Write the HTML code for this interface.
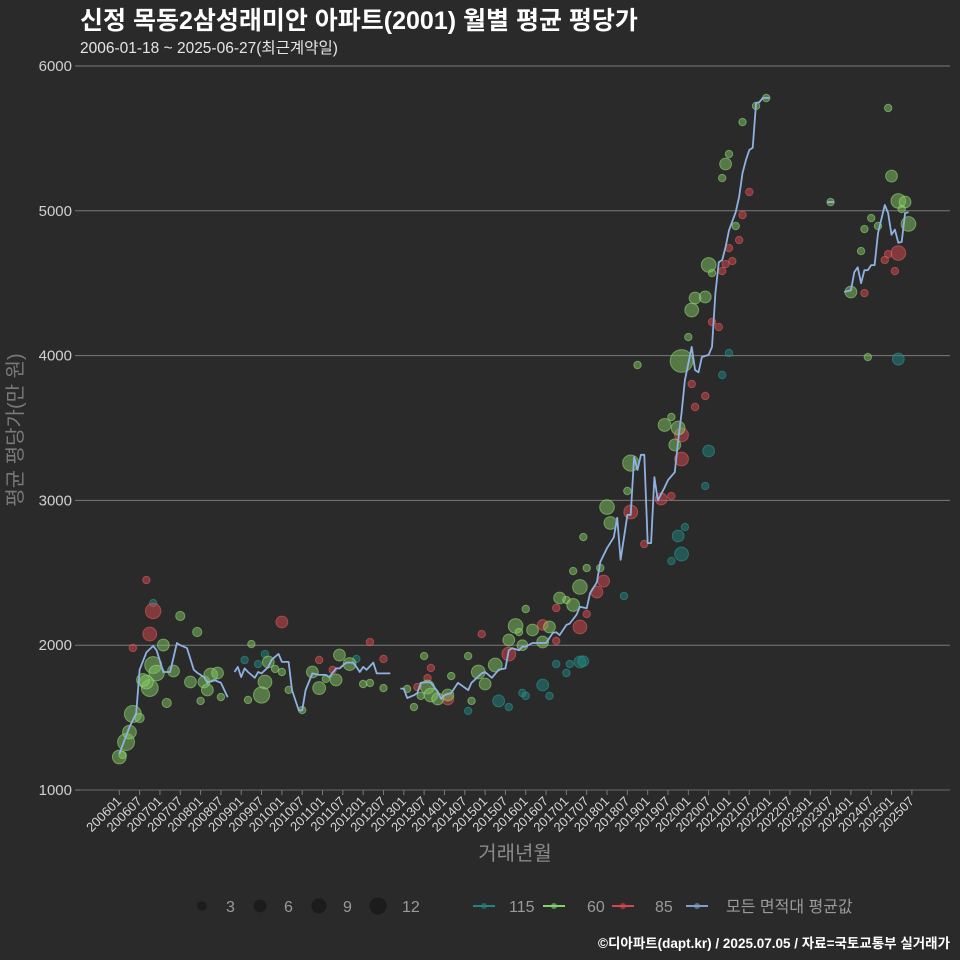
<!DOCTYPE html>
<html><head><meta charset="utf-8">
<style>
html,body{margin:0;padding:0;background:#2a2a2b;}
svg{display:block;font-family:"Liberation Sans","Noto Sans CJK KR",sans-serif;}
</style></head>
<body>
<svg id="chart" width="960" height="960" viewBox="0 0 960 960" xmlns="http://www.w3.org/2000/svg">
<rect x="0" y="0" width="960" height="960" fill="#2a2a2b"/>
<text x="80" y="29" fill="#ffffff" font-size="25" font-weight="bold">신정 목동2삼성래미안 아파트(2001) 월별 평균 평당가</text>
<text x="80" y="53" fill="#e6e6e6" font-size="15.5">2006-01-18 ~ 2025-06-27(최근계약일)</text>
<g id="grid"></g>
<g id="yticks"></g>
<g id="xticks"></g>
<g id="pts"></g>
<g id="line"></g>
<text transform="translate(22,430) rotate(-90)" text-anchor="middle" fill="#7a7a7a" font-size="20">평균 평당가(만 원)</text>
<text x="515" y="860" text-anchor="middle" fill="#8a8a8a" font-size="20">거래년월</text>
<g id="legend"></g>
<text x="950" y="948" text-anchor="end" fill="#ffffff" font-size="13.5" font-weight="bold">©디아파트(dapt.kr) / 2025.07.05 / 자료=국토교통부 실거래가</text>
</svg>
<script>
// ---- data ----
const yTicks = [1000, 2000, 3000, 4000, 5000, 6000];
const xTickLabels = ["200601","200607","200701","200707","200801","200807","200901","200907","201001","201007","201101","201107","201201","201207","201301","201307","201401","201407","201501","201507","201601","201607","201701","201707","201801","201807","201901","201907","202001","202007","202101","202107","202201","202207","202301","202307","202401","202407","202501","202507"];
// average line (month index from 2006-01; null = gap)
const lineMonths = [0,3,5,6,8,10,11,13,15,17,18,20,22,23,25,26,28,30,32,null,
34,35,36,37,38,40,41,42,44,45,47,48,49,50,51,53,54,55,57,59,61,62,64,65,67,69,70,71,72,73,75,76,80,null,
83,84,85,87,88,89,91,92,94,95,96,98,100,103,104,107,108,110,112,114,115,116,118,119,120,122,124,126,128,129,130,132,133,135,136,138,139,141,142,144,146,147,148,150,151,152,153,154,155,156,157,158,159,161,162,164,165,166,167,169,170,171,172,174,175,176,177,178,179,180,182,183,184,185,186,187,188,189,190,192,null,
209,211,null,
214,216,217,218,219,220,221,222,223,224,226,227,228,229,230,231,232,233];
const lineValues = [1250,1435,1530,1830,1950,1995,1965,1815,1815,2015,2000,1980,1830,1810,1780,1740,1760,1740,1640,null,
1815,1850,1780,1840,1815,1775,1815,1805,1850,1900,1940,1885,1885,1885,1690,1550,1550,1690,1805,1795,1795,1780,1840,1840,1880,1880,1850,1815,1850,1830,1880,1805,1805,null,
1700,1700,1635,1655,1670,1740,1745,1740,1680,1630,1655,1670,1740,1690,1740,1805,1815,1775,1830,1840,1965,1980,1965,1990,1990,2015,2015,2015,2085,2090,2070,2140,2150,2210,2265,2255,2360,2435,2575,2670,2745,2880,2590,2900,2900,3300,3210,3315,3315,2705,2705,3160,3000,3090,3140,3195,3415,3600,3830,4060,3900,3885,3990,4005,4060,4430,4645,4660,4750,4865,4990,5095,5260,5350,5420,5435,5745,5750,5780,5780,null,
5060,5060,null,
4440,4450,4575,4610,4500,4590,4590,4625,4625,4845,5040,4985,4835,4870,4780,4785,4985,4990];
// 60㎡
const months60 = [0,1,2,3,4,6,13,10,11,9,8,7,14,16,18,23,21,25,27,29,26,24,30,39,44,43,42,38,46,48,50,54,57,59,61,64,65,68,72,74,78,85,90,91,92,87,89,94,97,98,103,104,106,108,111,115,117,118,120,122,127,125,119,130,132,136,134,134,138,137,142,144,145,151,150,153,166,161,163,165,164,168,169,170,173,174,175,182,179,180,178,184,188,191,210,227,228,230,232,231,233,216,219,220,222,224,221];
const values60 = [1228,1242,1331,1400,1525,1497,2001,1863,1808,1704,1746,1760,1601,1822,2202,2091,1746,1746,1794,1808,1691,1615,1642,2008,1884,1746,1656,1622,1836,1815,1691,1552,1815,1704,1767,1760,1932,1870,1732,1739,1704,1698,1925,1711,1656,1573,1650,1629,1656,1787,1925,1615,1815,1732,1863,2036,2133,2091,2250,2105,2126,2022,2000,2326,2312,2402,2278,2512,2533,2747,2533,2954,2844,3258,3065,3935,3963,3521,3576,3500,3383,4128,4315,4398,4405,4626,4570,4895,5323,5392,5226,5613,5724,5779,5060,5710,5240,5068,5061,5012,4909,4439,4722,4874,4950,4895,3990];
const counts60 = [6,1,10,6,10,2,4,10,8,10,6,5,2,4,2,2,4,4,6,4,4,1,1,1,4,6,9,1,1,1,1,1,4,5,1,4,4,5,1,1,1,1,1,6,6,1,1,4,4,1,1,1,6,4,6,4,7,1,1,4,4,4,3,4,1,7,5,1,1,1,1,7,5,9,1,1,20,5,1,6,4,1,6,4,4,7,1,1,4,1,1,1,1,1,1,1,4,7,4,1,7,4,1,1,1,1,1];
// 85㎡
const months85 = [4,8,10,9,48,59,63,74,78,88,92,91,97,107,115,125,129,129,136,138,141,143,151,155,160,163,166,166,169,173,170,175,177,178,179,181,180,183,184,186,230,227,226,229,220];
const values85 = [1981,2450,2236,2077,2160,1898,1829,2022,1905,1711,1843,1773,1629,2077,1939,2140,2030,2257,2126,2215,2367,2443,2920,2699,3010,3030,3286,3452,3804,3721,3645,4232,4197,4584,4632,4653,4743,4798,4971,5130,4708,4701,4660,4584,4432];
const counts85 = [1,1,8,6,4,1,1,1,1,1,1,1,4,1,6,3,1,1,6,1,4,4,6,1,4,1,6,6,1,1,1,1,1,1,1,1,1,1,1,1,7,1,1,1,1];
// 115㎡
const months115 = [10,37,41,43,70,103,112,115,125,119,120,127,129,133,132,136,137,149,167,166,165,163,174,173,180,178,230];
const values115 = [2291,1898,1870,1939,1905,1546,1615,1573,1725,1670,1650,1650,1870,1870,1808,1884,1890,2340,2816,2630,2754,2581,3341,3099,4018,3866,3976];
const counts115 = [1,1,1,1,1,1,4,1,4,1,1,1,1,1,1,4,3,1,1,6,4,1,4,1,1,1,4];
const sizeBreaks = [3,6,9,12];

// ---- scales ----
const NS = "http://www.w3.org/2000/svg";
const x0 = 119.3, dxMonth = 3.387;
function xScale(m){ return x0 + m*dxMonth; }
function yScale(v){ return 790 - (v-1000)*0.1448; }
function rScale(n){ return 1.5 + 2.2*Math.sqrt(n); }
function mk(tag, attrs, parent){ const e=document.createElementNS(NS,tag); for(const k in attrs) e.setAttribute(k,attrs[k]); parent.appendChild(e); return e; }

// grid + y ticks
const grid=document.getElementById('grid'), yt=document.getElementById('yticks');
yTicks.forEach(v=>{
  const y=yScale(v);
  const gl=mk('line',{x1:80,x2:950,y1:y,y2:y,stroke:v===1000?'#6a6a6a':'#7a7a7a','stroke-width':1},grid);
  
  
  const tk=mk('line',{x1:75,x2:80,y1:y,y2:y,stroke:'#7a7a7a'},yt);
  
  
  const t=mk('text',{x:72,y:y+5,'text-anchor':'end',fill:'#d0d0d0','font-size':15},yt);
  t.textContent=v;
  
  
});
// x ticks
const xt=document.getElementById('xticks');
xTickLabels.forEach((lab,i)=>{
  const x=xScale(i*6);
  const tk=mk('line',{x1:x,x2:x,y1:790,y2:795,stroke:'#7a7a7a'},xt);
  
  
  const t=mk('text',{transform:`translate(${x+3},${802}) rotate(-45)`,'text-anchor':'end',fill:'#d8d8d8','font-size':13},xt);
  t.textContent=lab;
  
  
});

// points
const pts=document.getElementById('pts');
function drawPts(ms,vs,cs,fill,stroke,name){
  ms.forEach((m,i)=>{
    const c=mk('circle',{cx:xScale(m),cy:yScale(vs[i]),r:rScale(cs[i]),fill:fill,'fill-opacity':0.5,stroke:stroke,'stroke-opacity':0.55,'stroke-width':1},pts);
    
    
  });
}
drawPts(months115,values115,counts115,'#1f8580','#2a9d96','point-115');
drawPts(months85,values85,counts85,'#d9474c','#e86065','point-85');
drawPts(months60,values60,counts60,'#82c562','#9be07a','point-60');

// line
const lg=document.getElementById('line');
let seg=[];
function flush(){
  if(seg.length>1){
    const p=mk('polyline',{points:seg.join(' '),fill:'none',stroke:'#8fb2e0','stroke-width':1.8,'stroke-linejoin':'round'},lg);
    
    
  }
  seg=[];
}
lineMonths.forEach((m,i)=>{
  if(m===null||lineValues[i]===null){flush();return;}
  seg.push(xScale(m).toFixed(1)+','+yScale(lineValues[i]).toFixed(1));
});
flush();

// legend
const leg=document.getElementById('legend');
const sizeX=[202,260,319,378];
sizeBreaks.forEach((n,i)=>{
  const c=mk('circle',{cx:sizeX[i],cy:906,r:rScale(n)-0.5,fill:'#1c1c1c'},leg);
  
  
  const t=mk('text',{x:sizeX[i]+24,y:912,'text-anchor':'start',fill:'#9a9a9a','font-size':16},leg);
  t.textContent=n;
  
  
});
const colItems=[['115','#1f8580',473,509],['60','#7fd36a',543,587],['85','#d9474c',612,655],['모든 면적대 평균값','#7f9fcc',686,726]];
colItems.forEach(it=>{
  const g=mk('g',{},leg);
  
  
  mk('line',{x1:it[2],x2:it[2]+22,y1:906,y2:906,stroke:it[1],'stroke-width':2},g);
  mk('circle',{cx:it[2]+11,cy:906,r:3,fill:it[1],'fill-opacity':0.6},g);
  const t=mk('text',{x:it[3],y:912,fill:'#9a9a9a','font-size':16},g);
  t.textContent=it[0];
});
</script>
</body></html>
